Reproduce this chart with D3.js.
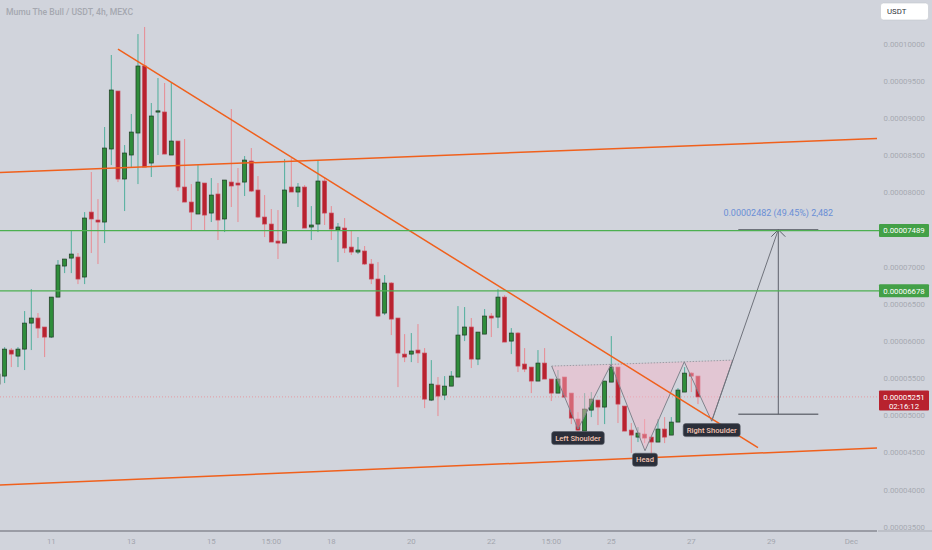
<!DOCTYPE html>
<html lang="en">
<head>
<meta charset="UTF-8">
<title>Mumu The Bull / USDT, 4h, MEXC</title>
<script src="https://d3js.org/d3.v7.min.js"></script>
<style>
  html, body { margin: 0; padding: 0; background: #d1d4dc; }
  svg { display: block; font-family: Roboto, "Liberation Sans", sans-serif; }
</style>
</head>
<body>
<svg id="chart" width="932" height="550"></svg>
<script>
// prices are stored in units of 1e-8 USDT (5251 = 0.00005251)
const firstBar = Date.UTC(2024, 10, 9, 16);   // first visible 4h candle
const barMs = 4 * 3600 * 1000;

const open  = [5423,5531,5881,5800,5894,6244,6312,6191,6056,6594,7012,7119,7133,6864,7738,7631,7604,8587,9367,8183,
               8506,8802,9704,8398,9090,9085,8506,8694,8075,7873,7712,8129,7725,7981,7645,8142,8129,8142,8425,8035,
               7671,7577,7348,7321,8075,8008,8075,7537,7577,8156,7725,7496,7523,7267,7200,7214,7039,6837,6379,6783,
               6312,5827,5827,5881,5841,5208,5410,5275,5396,5518,6083,6191,5760,6096,6339,6325,6594,6002,6110,5693,
               5652,5464,5706,5491,5302,5518,5302,4953,4791,5073,5208,5114,5450,5652,5127,4804,4710,4750,4710,4643,
               4818,4737,4912,5316,5571,5531];
const high  = [5585,5921,5908,5921,6406,6702,6379,6191,6594,7092,7106,7483,7187,7738,8277,7913,8883,9852,9367,8640,
               9058,10134,10229,9206,9542,9475,9488,8694,8721,8115,8371,8129,8196,8129,8169,9125,8331,8492,8600,8223,
               7967,7779,7765,8452,8465,8129,8102,7819,8438,8210,7819,7591,7658,7496,7402,7281,7106,7065,6890,6796,
               6312,6096,6110,6231,5908,5746,5518,5531,5598,6473,6460,6312,6123,6433,6379,6702,6621,6177,6123,5908,
               5652,5881,5908,5491,5612,5518,5302,5046,5302,5316,5208,5464,6069,5652,5127,4899,4845,4953,4710,4953,
               4979,4979,5370,5652,5585,5531];
const low   = [5396,5437,5652,5652,5612,5881,6043,5787,6043,6594,6917,6917,6769,6769,7187,7039,7321,8371,8142,7752,
               8344,8115,8344,8210,8506,8519,8506,8021,7873,7496,7712,7496,7604,7362,7469,7806,7604,7954,8008,7658,
               7402,7335,7106,7321,8008,7806,7523,7362,7469,7564,7362,7065,7187,7160,7173,7025,6769,6325,6352,6083,
               5383,5719,5719,5706,5100,5195,4993,5208,5396,5518,6002,5639,5679,6096,6056,6177,5989,5827,5585,5585,
               5302,5464,5491,5195,5302,5248,4885,4764,4791,4979,4872,4885,5450,4899,4791,4495,4643,4629,4360,4643,
               4629,4737,4912,5316,5316,5154];
const close = [5558,5894,5827,5894,6244,6312,6177,6056,6594,7025,7106,7173,6837,7658,7645,7604,8600,9381,8183,8533,
               8815,9704,8344,9031,9100,8519,8694,8075,7873,7738,8142,7698,7967,7631,8169,8089,8102,8438,8021,7671,
               7577,7335,7321,8035,8008,8075,7523,7564,8156,7725,7510,7537,7254,7200,7227,7039,6837,6339,6783,6298,
               5841,5787,5868,5841,5221,5423,5262,5396,5531,6083,6191,5760,6123,6339,6312,6594,5989,6110,5666,5625,
               5464,5706,5491,5302,5491,5248,4966,4804,5087,5221,5114,5464,5652,5154,4791,4737,4764,4697,4643,4818,
               4710,4912,5343,5571,5531,5251];

// price axis and time axis
const priceTicks = [3500,4000,4500,5000,5500,6000,6500,7000,7500,8000,8500,9000,9500,10000];
const timeTicks = ["2024-11-11T00:00Z","2024-11-13T00:00Z","2024-11-15T00:00Z","2024-11-16T12:00Z",
                   "2024-11-18T00:00Z","2024-11-20T00:00Z","2024-11-22T00:00Z","2024-11-23T12:00Z",
                   "2024-11-25T00:00Z","2024-11-27T00:00Z","2024-11-29T00:00Z","2024-12-01T00:00Z"];
const timeLabels = ["11","13","15","15:00","18","20","22","15:00","25","27","29","Dec"];

// horizontal levels and last price
const levels = [7489, 6678];
const lastPrice = 5251;
const countdown = "02:16:12";

// drawings (time, price anchors)
const channelTop    = [["2024-11-11T00:00Z", 8297], ["2024-12-01T00:00Z", 8714]];
const channelBottom = [["2024-11-11T00:00Z", 4094], ["2024-12-01T00:00Z", 4547]];
const downTrend     = [["2024-11-12T16:00Z", 9930], ["2024-11-28T16:00Z", 4569]];

const hsTimes  = ["2024-11-23T12:14Z","2024-11-24T04:00Z","2024-11-24T23:50Z","2024-11-25T20:13Z",
                  "2024-11-26T19:48Z","2024-11-27T12:14Z","2024-11-28T00:50Z"];
const hsPrices = [5666, 4818, 5689, 4526, 5723, 4925, 5746];
const hsLabels = [null, "Left Shoulder", null, "Head", null, "Right Shoulder", null];

const target = { time: "2024-11-29T04:12Z", from: 5019, to: 7501, left: "2024-11-28T04:12Z", right: "2024-11-30T04:12Z" };

const plotW = 877, plotH = 531;
const svg = d3.select("#chart");

const x = d3.scaleUtc()
    .domain([new Date(Date.UTC(2024, 10, 9, 17, 13)), new Date(Date.UTC(2024, 11, 1, 15, 25))])
    .range([0, plotW]);
const y = d3.scaleLinear().domain([3500, 10000]).range([527, 44]);

const candles = open.map((o, i) => ({
    t: new Date(firstBar + i * barMs), o, h: high[i], l: low[i], c: close[i]
}));

svg.append("rect").attr("width", 932).attr("height", 550).attr("fill", "#d1d4dc");

svg.append("defs").append("clipPath").attr("id", "plot")
    .append("rect").attr("width", plotW).attr("height", plotH);
const g = svg.append("g").attr("clip-path", "url(#plot)");

// last price dotted line
g.append("line")
    .attr("x1", 0).attr("x2", plotW)
    .attr("y1", y(lastPrice)).attr("y2", y(lastPrice))
    .attr("stroke", "#e59aa2").attr("stroke-width", 1).attr("stroke-dasharray", "1,2");

// candles
const up = d => d.c >= d.o;
g.selectAll(".wick").data(candles).enter().append("line")
    .attr("x1", d => x(d.t)).attr("x2", d => x(d.t))
    .attr("y1", d => y(d.h)).attr("y2", d => y(d.l))
    .attr("stroke", d => up(d) ? "#4fae9c" : "#e98a92")
    .attr("stroke-width", 1);
g.selectAll(".body").data(candles).enter().append("rect")
    .attr("x", d => x(d.t) - 2)
    .attr("width", 4)
    .attr("y", d => y(Math.max(d.o, d.c)))
    .attr("height", d => Math.max(1.2, Math.abs(y(d.o) - y(d.c))))
    .attr("fill", d => up(d) ? "#2f8d3b" : "#b8232f")
    .attr("stroke", d => up(d) ? "#1f3a24" : "#c9485a")
    .attr("stroke-width", 0.7);

// head & shoulders pattern
const hs = hsTimes.map((t, i) => [x(new Date(t)), y(hsPrices[i])]);
[[0, 1, 2], [2, 3, 4], [4, 5, 6]].forEach(tri => {
    g.append("path")
        .attr("d", d3.line()(tri.map(k => hs[k])) + "Z")
        .attr("fill", "#f7b6c8").attr("fill-opacity", 0.45);
});
g.append("path")
    .attr("d", d3.line()([hs[0], hs[2], hs[4], hs[6]]))
    .attr("fill", "none").attr("stroke", "#9a9ca4").attr("stroke-width", 1)
    .attr("stroke-dasharray", "1.5,1.5");
g.append("path")
    .attr("d", d3.line()(hs))
    .attr("fill", "none").attr("stroke", "#80838c").attr("stroke-width", 1);

// orange trend lines
function extended(a, b) {
    const x1 = x(new Date(a[0])), y1 = y(a[1]), x2 = x(new Date(b[0])), y2 = y(b[1]);
    const k = (y2 - y1) / (x2 - x1);
    return [[0, y1 - k * x1], [plotW, y1 + k * (plotW - x1)]];
}
[extended(...channelTop), extended(...channelBottom),
 downTrend.map(p => [x(new Date(p[0])), y(p[1])])].forEach(pts => {
    g.append("path").attr("d", d3.line()(pts))
        .attr("stroke", "#f0601c").attr("stroke-width", 1.5).attr("fill", "none");
});

// green levels
levels.forEach(v => {
    svg.append("line")
        .attr("x1", 0).attr("x2", 880)
        .attr("y1", y(v)).attr("y2", y(v))
        .attr("stroke", "#4caf50").attr("stroke-width", 1.2);
});

// projection from right shoulder to target
const tx = x(new Date(target.time));
g.append("line")
    .attr("x1", hs[5][0]).attr("y1", hs[5][1])
    .attr("x2", tx).attr("y2", y(target.to))
    .attr("stroke", "#6f727b").attr("stroke-width", 1);
[target.from, target.to].forEach(v => {
    g.append("line")
        .attr("x1", x(new Date(target.left))).attr("x2", x(new Date(target.right)))
        .attr("y1", y(v)).attr("y2", y(v))
        .attr("stroke", "#6f727b").attr("stroke-width", 1.5);
});
g.append("line")
    .attr("x1", tx).attr("x2", tx)
    .attr("y1", y(target.from)).attr("y2", y(target.to))
    .attr("stroke", "#5d606b").attr("stroke-width", 1);
g.append("path")
    .attr("d", d3.line()([[tx - 7, y(target.to) + 7], [tx, y(target.to)], [tx + 7, y(target.to) + 7]]))
    .attr("fill", "none").attr("stroke", "#5d606b").attr("stroke-width", 1);
const diff = target.to - target.from;
g.append("text")
    .attr("x", tx).attr("y", y(target.to) - 14)
    .attr("text-anchor", "middle")
    .attr("font-size", "9px").attr("fill", "#6a8fd6")
    .text(`${(diff / 1e8).toFixed(8)} (${(diff / target.from * 100).toFixed(2)}%) ${d3.format(",")(diff)}`);

// pattern labels
hs.forEach((p, i) => {
    if (!hsLabels[i]) return;
    const lg = g.append("g").attr("transform", `translate(${p[0]},${p[1] + 9})`);
    const txt = lg.append("text")
        .attr("text-anchor", "middle").attr("dy", "0.35em")
        .attr("font-size", "7.6px").attr("font-weight", 500).attr("fill", "#f3c4b2")
        .text(hsLabels[i]);
    const w = txt.node().getComputedTextLength() + 7;
    lg.insert("rect", "text")
        .attr("x", -w / 2).attr("y", -6.5).attr("width", w).attr("height", 13)
        .attr("rx", 2.5).attr("fill", "#2b2f3a").attr("stroke", "#565a65").attr("stroke-width", 0.6);
});

// bottom axis
svg.append("line").attr("x1", 0).attr("x2", plotW).attr("y1", 531).attr("y2", 531)
    .attr("stroke", "#878a93").attr("stroke-width", 1.6);
svg.append("line").attr("x1", plotW + 1).attr("x2", 932).attr("y1", 531).attr("y2", 531)
    .attr("stroke", "#a9acb4").attr("stroke-width", 1);
svg.selectAll(".tl").data(timeTicks).enter().append("text")
    .attr("x", d => x(new Date(d))).attr("y", 541).attr("dy", "0.35em")
    .attr("text-anchor", "middle").attr("font-size", "7.8px").attr("fill", "#a3a6ae")
    .text((d, i) => timeLabels[i]);

// price axis
svg.selectAll(".pl").data(priceTicks).enter().append("text")
    .attr("x", 925).attr("y", d => y(d)).attr("dy", "0.35em")
    .attr("text-anchor", "end").attr("font-size", "7.8px").attr("fill", "#a7aab2")
    .text(d => (d / 1e8).toFixed(8));

function priceTag(v, fill, lines) {
    const h = lines.length > 1 ? 20 : 13;
    svg.append("rect")
        .attr("x", 879).attr("y", y(v) - 6.5).attr("width", 50).attr("height", h)
        .attr("rx", 1).attr("fill", fill);
    lines.forEach((s, i) => {
        svg.append("text")
            .attr("x", 904).attr("y", y(v) + i * 9.5).attr("dy", "0.35em")
            .attr("text-anchor", "middle").attr("font-size", "7.8px").attr("fill", "#ffffff")
            .text(s);
    });
}
levels.forEach(v => priceTag(v, "#43a047", [(v / 1e8).toFixed(8)]));
priceTag(lastPrice, "#b8222e", [(lastPrice / 1e8).toFixed(8), countdown]);

// currency box
svg.append("rect").attr("x", 880.5).attr("y", 3).attr("width", 48).attr("height", 17)
    .attr("rx", 3).attr("fill", "#ffffff").attr("stroke", "#c4c7ce").attr("stroke-width", 0.6);
svg.append("text").attr("x", 887).attr("y", 11.5).attr("dy", "0.35em")
    .attr("font-size", "7.8px").attr("fill", "#30333b").text("USDT");

// title
svg.append("text").attr("x", 6).attr("y", 11.5).attr("dy", "0.35em")
    .attr("font-size", "8.6px").attr("fill", "#a5a8b0").attr("font-weight", 500)
    .text("Mumu The Bull / USDT, 4h, MEXC");
</script>
</body>
</html>
